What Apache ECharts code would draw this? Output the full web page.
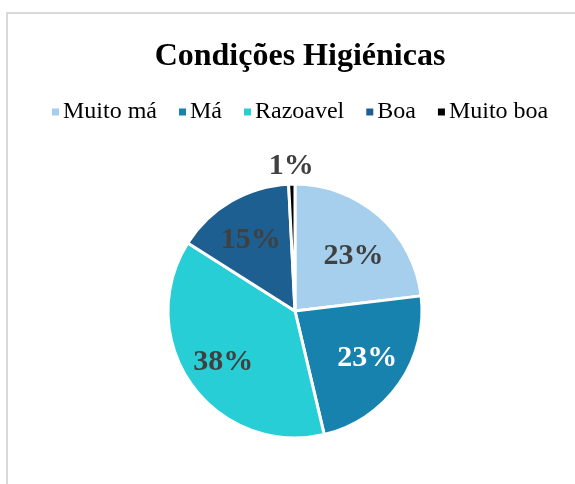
<!DOCTYPE html>
<html>
<head>
<meta charset="utf-8">
<script src="https://cdn.jsdelivr.net/npm/echarts@6/dist/echarts.min.js"></script>
<style>
  html, body { margin: 0; padding: 0; background: #fff; }
  #chart { width: 575px; height: 484px; }
</style>
</head>
<body>
<div id="chart"></div>
<script>
const categories = ['Muito má', 'Má', 'Razoavel', 'Boa', 'Muito boa'];
const shares = [23.1, 23.2, 37.7, 15.2, 0.8];
const sliceColors = ['#a5cfec', '#1682ad', '#28ced6', '#1d5f91', '#000000'];
const labelColors = ['#404040', '#ffffff', '#404040', '#404040', '#404040'];

const CENTER = [295, 311];
const R = 127;
const FONT = '"Liberation Serif", "Times New Roman", serif';
// small nudges so the labels sit where the original (best fit) put them
const LABEL_DY = [11, -3, 0, 5, 7];

const chart = echarts.init(document.getElementById('chart'), null, { renderer: 'canvas' });

const pctLabel = p => Math.round(p.percent) + '%';

function overlay(radius, showIdx) {
  return {
    type: 'pie',
    silent: true,
    center: CENTER,
    radius: [0, radius],
    startAngle: 90,
    clockwise: true,
    animation: false,
    itemStyle: { color: 'rgba(0,0,0,0)' },
    labelLine: { show: false },
    labelLayout: p => ({ dy: LABEL_DY[p.dataIndex] }),
    data: categories.map((name, i) => ({
      name: name,
      value: shares[i],
      label: {
        show: showIdx.includes(i),
        position: 'inside',
        formatter: pctLabel,
        color: labelColors[i],
        fontFamily: FONT,
        fontWeight: 'bold',
        fontSize: 30
      }
    }))
  };
}

chart.setOption({
  backgroundColor: '#fff',
  animation: false,
  title: {
    text: 'Condições Higiénicas',
    left: 295,
    textAlign: 'center',
    top: 36,
    textStyle: { fontFamily: FONT, fontWeight: 'bold', fontSize: 32, color: '#000' }
  },
  legend: {
    top: 95,
    left: 45,
    itemWidth: 9,
    itemHeight: 9,
    itemGap: 20,
    icon: 'rect',
    textStyle: { fontFamily: FONT, fontSize: 24, color: '#000', padding: [0, 0, 0, -2] },
    data: categories.map((name, i) => ({ name: name, itemStyle: { color: sliceColors[i] } }))
  },
  graphic: [{
    type: 'rect',
    shape: { x: 7, y: 13, width: 640, height: 540 },
    style: { fill: 'none', stroke: '#d9d9d9', lineWidth: 2 },
    silent: true
  }],
  series: [
    {
      type: 'pie',
      center: CENTER,
      radius: [0, R],
      startAngle: 90,
      clockwise: true,
      animation: false,
      itemStyle: { borderColor: '#fff', borderWidth: 3 },
      label: { show: false },
      labelLine: { show: false },
      data: categories.map((name, i) => ({
        name: name,
        value: shares[i],
        itemStyle: { color: sliceColors[i] }
      }))
    },
    overlay(R * 1.34, [0, 1, 2, 3]),
    overlay(R * 2.34, [4])
  ]
});
</script>
</body>
</html>
